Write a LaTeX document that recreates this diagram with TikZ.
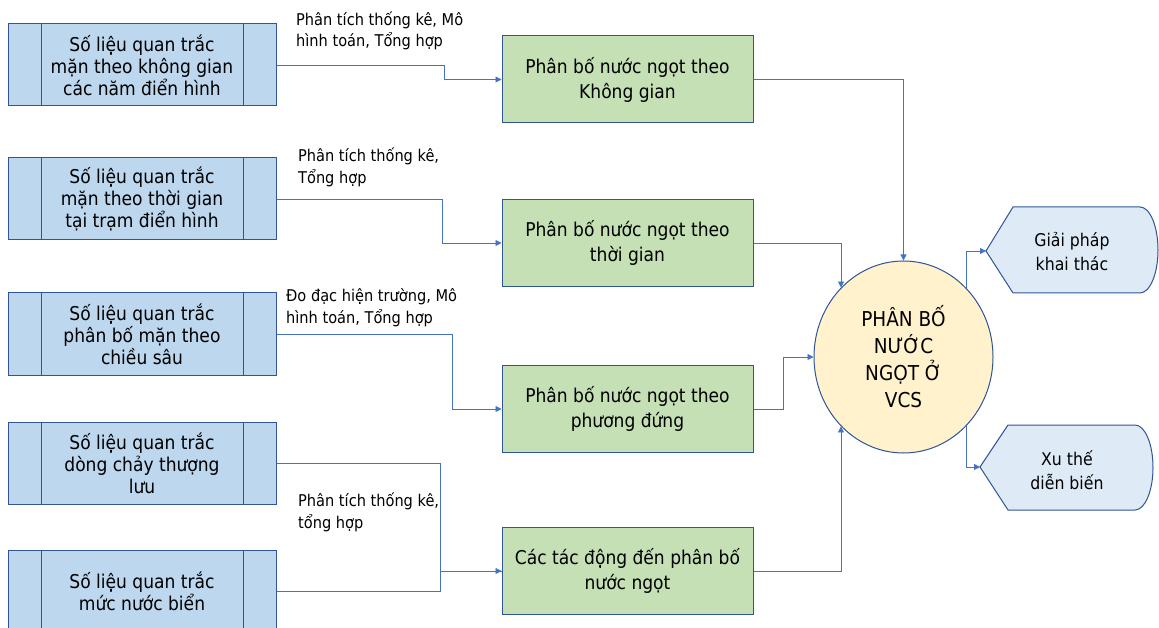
\documentclass[tikz,border=0pt]{standalone}
\usepackage{fontspec}
\setmainfont{DejaVu Sans Condensed}
\usetikzlibrary{arrows.meta,shapes.geometric}
\definecolor{bfill}{HTML}{BDD7EE}
\definecolor{gfill}{HTML}{C5E0B4}
\definecolor{cfill}{HTML}{FFF2CC}
\definecolor{ofill}{HTML}{DEEBF7}
\definecolor{edge}{HTML}{2F5597}
\definecolor{conn}{HTML}{4472C4}
\begin{document}
\begin{tikzpicture}[x=1pt,y=-1pt,
  srcbox/.style={draw=edge, fill=bfill, line width=1pt, minimum width=268pt, minimum height=82pt, inner sep=0pt, align=center, font=\fontsize{19}{22}\selectfont},
  resbox/.style={draw=edge, fill=gfill, line width=1pt, minimum width=251pt, minimum height=87pt, inner sep=0pt, align=center, font=\fontsize{19}{25}\selectfont},
  hub/.style={ellipse, draw=edge, fill=cfill, line width=1pt, minimum width=179pt, minimum height=192pt, inner sep=0pt, align=center, font=\fontsize{20.5}{27}\selectfont},
  outshape/.style={draw=edge, fill=ofill, line width=1pt},
  outtext/.style={align=center, inner sep=0pt, font=\fontsize{17.5}{24}\selectfont},
  lbl/.style={anchor=west, align=left, inner sep=0pt, font=\fontsize{16.2}{21.5}\selectfont},
  conline/.style={draw=conn, line width=0.8pt},
  arr/.style={conline, -{Triangle[length=6pt,width=6pt]}}
]
\useasboundingbox (0,0) rectangle (1159,628);

% source boxes
\node[srcbox] (s1) at (142,65) {Số liệu quan trắc\\mặn theo không gian\\các năm điển hình};
\node[srcbox] (s2) at (142,199) {Số liệu quan trắc\\mặn theo thời gian\\tại trạm điển hình};
\node[srcbox] (s3) at (142,334) {Số liệu quan trắc\\phân bố mặn theo\\chiều sâu};
\node[srcbox] (s4) at (142,463) {Số liệu quan trắc\\dòng chảy thượng\\lưu};
\node[srcbox] (s5) at (142,591) {Số liệu quan trắc\\mức nước biển};
\foreach \n in {s1,s2,s3,s4,s5}{
  \draw[draw=edge, line width=1pt] ([xshift=34pt]\n.north west) -- ([xshift=34pt]\n.south west);
  \draw[draw=edge, line width=1pt] ([xshift=-33pt]\n.north east) -- ([xshift=-33pt]\n.south east);
}

% result boxes
\node[resbox] (r1) at (627.5,79.5) {Phân bố nước ngọt theo\\Không gian};
\node[resbox] (r2) at (627.5,243) {Phân bố nước ngọt theo\\thời gian};
\node[resbox] (r3) at (627.5,409) {Phân bố nước ngọt theo\\phương đứng};
\node[resbox] (r4) at (627.5,571) {Các tác động đến phân bố\\nước ngọt};

% hub
\node[hub] (hub) at (903.5,357) {PHÂN BỐ\\NƯỚC\\NGỌT Ở\\VCS};

% outputs
\draw[outshape] (986,251) -- (1013,207) -- (1140,207) arc[start angle=90,end angle=-90,x radius=18pt,y radius=43pt] -- (1013,293) -- cycle;
\coordinate (o1p) at (986,251);
\node[outtext] (o1) at (1072,252) {Giải pháp\\khai thác};
\draw[outshape] (980,467) -- (1008,425) -- (1135,425) arc[start angle=90,end angle=-90,x radius=18pt,y radius=42.5pt] -- (1008,510) -- cycle;
\coordinate (o2p) at (980,467);
\node[outtext] (o2) at (1067,470) {Xu thế\\diễn biến};

% labels
\node[lbl] (l1) at (296,31) {Phân tích thống kê, Mô\\hình toán, Tổng hợp};
\node[lbl] (l2) at (298,167.5) {Phân tích thống kê,\\Tổng hợp};
\node[lbl] (l3) at (286,307.5) {Đo đạc hiện trường, Mô\\hình toán, Tổng hợp};
\node[lbl] (l4) at (298,512.5) {Phân tích thống kê,\\tổng hợp};

% connectors left
\draw[arr] (s1.east) -- ++(168,0) |- (r1.west);
\draw[arr] (s2.east) -- ++(166,0) |- (r2.west);
\draw[arr] (s3.east) -- ++(176,0) |- (r3.west);
\draw[arr] (s4.east) -- ++(164,0) |- (r4.west);
\draw[conline] (s5.east) -- ++(164,0) |- (r4.west);

% connectors to hub
\draw[arr] (r1.east) -| (hub.north);
\draw[arr] (r2.east) -| (hub.132);
\draw[arr] (r3.east) -- ++(30,0) |- (hub.west);
\draw[arr] (r4.east) -| (hub.-132);

% connectors to outputs
\draw[arr] (hub.48) |- (o1p);
\draw[arr] (hub.-48) |- (o2p);
\end{tikzpicture}
\end{document}
